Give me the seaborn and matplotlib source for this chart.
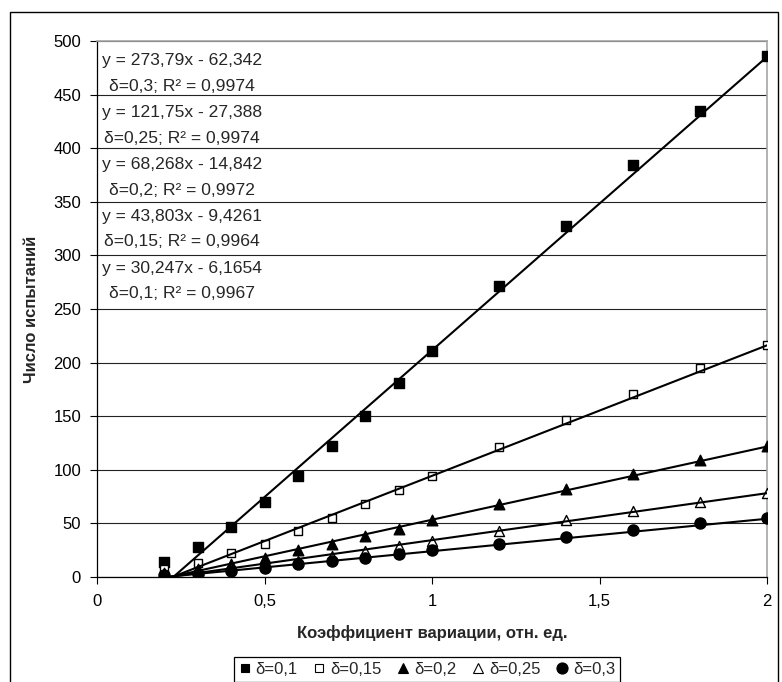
import numpy as np
import pandas as pd
import matplotlib
matplotlib.use("Agg")
import matplotlib.pyplot as plt
import seaborn as sns
from matplotlib.lines import Line2D
from matplotlib.patches import Rectangle

# ---------------- data ----------------
x_vals = [0.2, 0.3, 0.4, 0.5, 0.6, 0.7, 0.8, 0.9, 1.0, 1.2, 1.4, 1.6, 1.8, 2.0]
series_labels = ["δ=0,1", "δ=0,15", "δ=0,2", "δ=0,25", "δ=0,3"]
y_d010 = [14, 28, 47, 70, 94, 122, 150, 181, 211, 271, 327, 384, 435, 486]
y_d015 = [7, 13, 22, 31, 43, 55, 68, 81, 94, 121, 146, 171, 195, 216]
y_d020 = [4, 7, 12, 18, 25, 31, 38, 45, 53, 68, 82, 96, 109, 122]
y_d025 = [3, 5, 8, 11, 15, 20, 24, 29, 34, 43, 53, 62, 70, 78]
y_d030 = [2, 3, 6, 8, 12, 15, 18, 21, 25, 31, 37, 44, 50, 55]
series_values = [y_d010, y_d015, y_d020, y_d025, y_d030]

trend_slopes = [273.79, 121.75, 68.268, 43.803, 30.247]
trend_intercepts = [-62.342, -27.388, -14.842, -9.4261, -6.1654]
eq_line1 = ["y = 273,79x - 62,342", "y = 121,75x - 27,388", "y = 68,268x - 14,842",
            "y = 43,803x - 9,4261", "y = 30,247x - 6,1654"]
eq_line2 = ["δ=0,3; R² = 0,9974", "δ=0,25; R² = 0,9974", "δ=0,2; R² = 0,9972",
            "δ=0,15; R² = 0,9964", "δ=0,1; R² = 0,9967"]

x_ticks = [0, 0.5, 1, 1.5, 2]
x_tick_labels = ["0", "0,5", "1", "1,5", "2"]
y_ticks = list(range(0, 501, 50))
x_title = "Коэффициент вариации, отн. ед."
y_title = "Число испытаний"

# ---------------- style ----------------
sns.set_style("white")
plt.rcParams["font.family"] = ["Liberation Sans", "DejaVu Sans"]
FS = 12
FS_EQ = 12.6

marker_styles = [
    dict(marker="s", face="black", s=42),
    dict(marker="s", face="white", s=38),
    dict(marker="^", face="black", s=58),
    dict(marker="^", face="white", s=52),
    dict(marker="o", face="black", s=64),
]
legend_ms = [5.5, 5.5, 7, 6.5, 8]

W, H = 782, 682
fig = plt.figure(figsize=(W / 100, H / 100), dpi=100)
ax_l, ax_r, ax_t, ax_b = 97, 767, 41, 577
ax = fig.add_axes([ax_l / W, 1 - ax_b / H, (ax_r - ax_l) / W, (ax_b - ax_t) / H])

df = pd.DataFrame({
    "x": np.tile(x_vals, len(series_labels)),
    "y": np.concatenate(series_values),
    "series": np.repeat(series_labels, len(x_vals)),
})

for lab, st in zip(series_labels, marker_styles):
    sub = df[df["series"] == lab]
    sns.scatterplot(data=sub, x="x", y="y", marker=st["marker"], s=st["s"],
                    color=st["face"], edgecolor="black", linewidth=1.0,
                    ax=ax, zorder=3, legend=False)

# trend lines over the data range
for k, b in zip(trend_slopes, trend_intercepts):
    xs = np.array([min(x_vals), max(x_vals)])
    sns.lineplot(x=xs, y=k * xs + b, color="black", linewidth=1.5, ax=ax,
                 zorder=4, legend=False)

ax.set_xlim(0, 2)
ax.set_ylim(0, 500)
ax.set_xticks(x_ticks)
ax.set_xticklabels(x_tick_labels)
ax.set_yticks(y_ticks)
ax.tick_params(axis="both", direction="out", length=5, width=0.8, color="black",
               labelsize=FS, labelcolor="black")
ax.tick_params(axis="y", pad=6.5, left=True)
ax.tick_params(axis="x", pad=7.5, bottom=True)

ax.yaxis.grid(True, color="#222222", linewidth=0.8)
ax.xaxis.grid(False)
ax.set_axisbelow(True)
for side in ["left", "bottom"]:
    ax.spines[side].set_color("black")
    ax.spines[side].set_linewidth(0.9)
for side in ["top", "right"]:
    ax.spines[side].set_color("#A6A6A6")
    ax.spines[side].set_linewidth(1.2)

ax.set_xlabel(x_title, fontsize=FS, fontweight="bold", va="center")
ax.xaxis.set_label_coords(0.5, (ax_b - 633) / (ax_b - ax_t))
ax.set_ylabel(y_title, fontsize=FS, fontweight="bold", va="center")
ax.yaxis.set_label_coords((32 - ax_l) / (ax_r - ax_l), 0.5)

# equation labels
eq_x = 0.254
for i, (l1, l2) in enumerate(zip(eq_line1, eq_line2)):
    y1 = 482 - 48.5 * i
    ax.text(eq_x, y1, l1, ha="center", va="center", fontsize=FS_EQ, zorder=5)
    ax.text(eq_x, y1 - 24, l2, ha="center", va="center", fontsize=FS_EQ, zorder=5)

# legend
handles = [Line2D([], [], linestyle="none", marker=st["marker"],
                  markerfacecolor=st["face"], markeredgecolor="black",
                  markeredgewidth=0.8, markersize=ms)
           for st, ms in zip(marker_styles, legend_ms)]
leg = fig.legend(handles, series_labels, loc="upper center",
                 bbox_to_anchor=(427 / W, 1 - 657 / H), ncol=5, frameon=True,
                 fancybox=False, edgecolor="black", framealpha=1, fontsize=FS,
                 handlelength=0.7, handletextpad=0.3, columnspacing=0.95,
                 borderpad=0.3, borderaxespad=0)
leg.get_frame().set_linewidth(0.9)

# outer chart frame
fig.patches.append(Rectangle((10 / W, -0.05), (778 - 10) / W, (1 - 12 / H) + 0.05,
                             transform=fig.transFigure, fill=False,
                             edgecolor="black", linewidth=1.0))

fig.savefig("out.png", dpi=100)
